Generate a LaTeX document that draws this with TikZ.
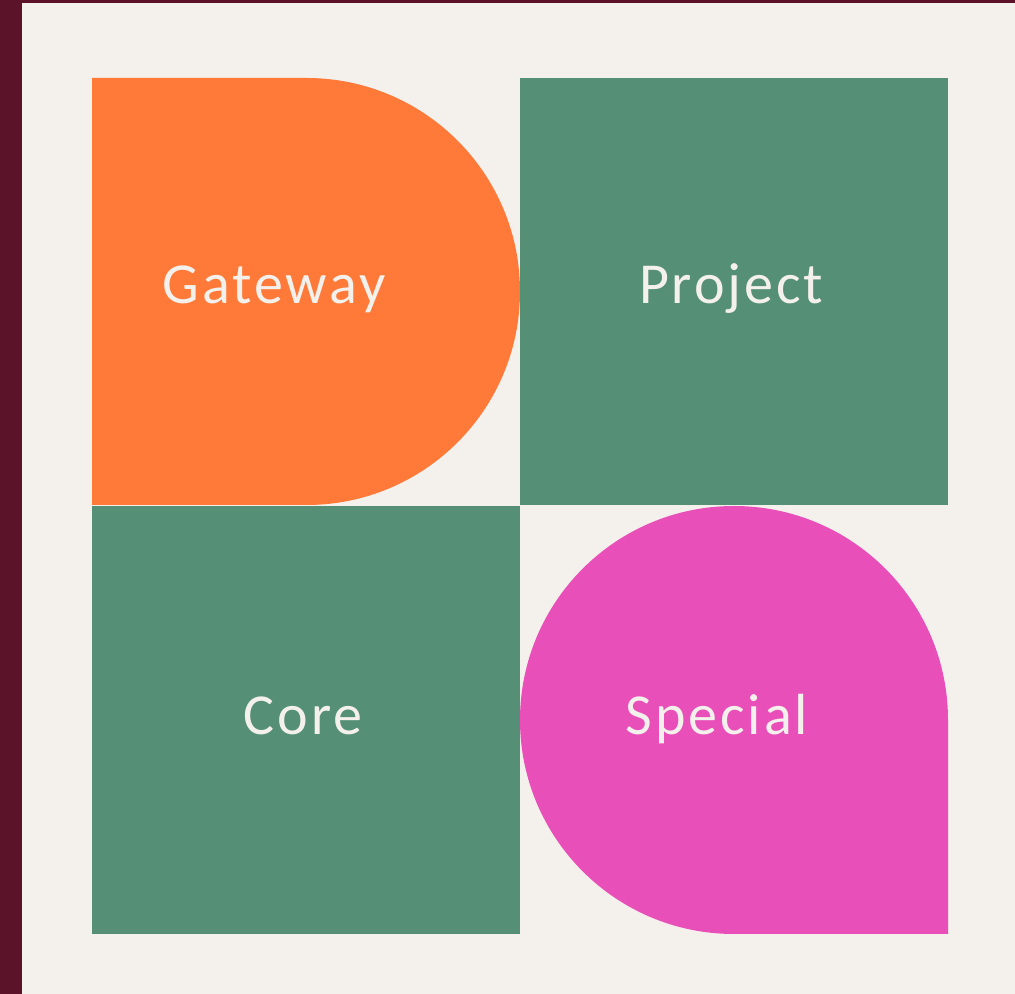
\documentclass[tikz,border=0pt]{standalone}
\usepackage{fontspec}
\setmainfont{Carlito}[LetterSpace=5]
\usetikzlibrary{positioning}
\definecolor{Maroon}{HTML}{5A1329}
\definecolor{Cream}{HTML}{F4F0EB}
\definecolor{Tangerine}{HTML}{FF7A39}
\definecolor{Sage}{HTML}{548F76}
\definecolor{Orchid}{HTML}{E94FB9}

\begin{document}
\begin{tikzpicture}[
  x=0.01cm, y=0.01cm,
  tilelabel/.style={font=\fontsize{16.5}{19}\selectfont, text=Cream, inner sep=0pt},
]

% --- Frame ---
\useasboundingbox (0,0) rectangle (1015,994);
\fill[Maroon] (0,0) rectangle (1015,994);
\fill[Cream] (22,0) rectangle (1015,991);

% --- Tiles ---
\fill[Tangerine] (92,489) -- (92,916) -- (306.5,916)
  arc[start angle=90, end angle=-90, radius=213.5] -- cycle;
\fill[Sage] (520,489) rectangle (948,916);
\fill[Sage] (92,60) rectangle (520,488);
\fill[Orchid] (948,60) -- (948,274)
  arc[start angle=0, end angle=270, radius=214] -- cycle;

% --- Labels ---
\node[tilelabel] (gateway) at (274,705) {Gateway};
\node[tilelabel] (project) at (731,705) {Project};
\node[tilelabel] (core) at (303,278) {Core};
\node[tilelabel] (special) at (717,275) {Special};

\end{tikzpicture}
\end{document}
